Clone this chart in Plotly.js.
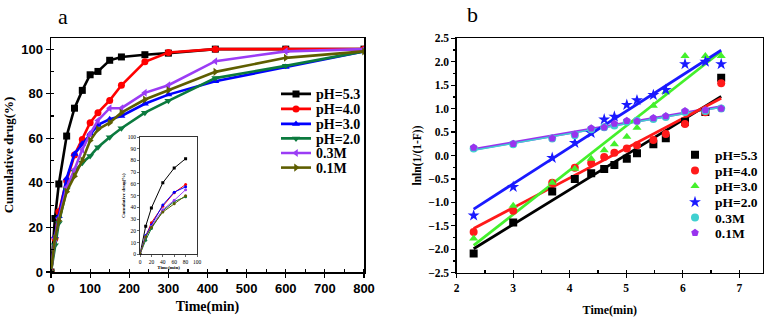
<!DOCTYPE html>
<html><head><meta charset="utf-8">
<script src="https://cdn.plot.ly/plotly-3.0.1.min.js"></script>
<style>html,body{margin:0;padding:0;background:#fff}#chart{width:772px;height:318px}</style>
</head><body><div id="chart"></div>
<script>
// ---------- Panel a: cumulative release ----------
const timeMin = [0, 10, 20, 40, 60, 80, 100, 120, 150, 180, 240, 300, 420, 600, 800];
const seriesNames = ['pH=5.3', 'pH=4.0', 'pH=3.0', 'pH=2.0', '0.3M', '0.1M'];
const relPH53 = [0, 24, 39.5, 61, 73.5, 81.5, 88.5, 90, 95, 96.5, 97.5, 98.2, 100, 100, 100];
const relPH40 = [0, 15, 27, 41, 52.5, 59.5, 67, 71.5, 77, 83.8, 94.3, 98.5, 100, 100, 100];
const relPH30 = [0, 16, 25, 42, 53, 57.5, 62, 66, 68.5, 70, 75.5, 79.6, 85.6, 92, 99];
const relPH20 = [0, 12, 22, 37, 45, 49, 52, 56, 60.5, 64.5, 71.5, 76.8, 87, 92.5, 99];
const rel03M  = [0, 15, 24, 38, 46, 55, 62, 68, 73.5, 73.5, 80.4, 83.8, 94.6, 99, 100];
const rel01M  = [0, 15, 23, 36, 43, 50, 59, 64, 67, 71.5, 77.4, 81.6, 89.8, 96.1, 99];
const insetCount = 6; // inset shows the first 80 min

// ---------- Panel b: lnln(1/(1-F)) vs ln t ----------
const lnTime = [2.30, 3.00, 3.69, 4.09, 4.38, 4.61, 4.79, 5.01, 5.19, 5.48, 5.70, 6.04, 6.40, 6.68];
const kinPH53 = [-2.09, -1.43, -0.77, -0.50, -0.38, -0.29, -0.20, -0.07, 0.05, 0.24, 0.37, 0.72, 0.93, 1.66];
const kinPH40 = [-1.63, -1.18, -0.58, -0.26, -0.16, -0.03, 0.06, 0.15, 0.22, 0.33, 0.46, 0.67, 0.92, 1.54];
const kinPH30 = [-1.77, -1.07, -0.58, -0.28, -0.07, 0.11, 0.24, 0.40, 0.59, 1.06, 1.36, 2.12, 2.12, 2.12];
const kinPH20 = [-1.28, -0.67, -0.05, 0.27, 0.48, 0.77, 0.83, 1.08, 1.18, 1.29, 1.40, 1.95, 2.00, 1.95];
const kin03M  = [0.15, 0.24, 0.36, 0.43, 0.56, 0.60, 0.64, 0.72, 0.74, 0.78, 0.82, 0.93, 0.95, 1.00];
const kin01M  = [0.17, 0.25, 0.37, 0.45, 0.58, 0.60, 0.68, 0.74, 0.73, 0.80, 0.84, 0.95, 0.97, 1.00];

// ---------- styles ----------
const colorsA = ['#000000', '#ff0000', '#0000ff', '#0b7a3e', '#9b3cf5', '#5e5e00'];
const symbolsA = ['square', 'circle', 'triangle-up', 'triangle-down', 'triangle-left', 'triangle-right'];
const colorsB = ['#000000', '#ff1a1a', '#44f02c', '#1a1aff', '#40d0d0', '#9933ee'];
const symbolsB = ['square', 'circle', 'triangle-up', 'star', 'circle', 'pentagon'];

const relSeries = [relPH53, relPH40, relPH30, relPH20, rel03M, rel01M];
const kinSeries = [kinPH53, kinPH40, kinPH30, kinPH20, kin03M, kin01M];

const SERIF = '"Liberation Serif", "Times New Roman", serif';
const SANS = '"Liberation Sans", Arial, sans-serif';

function linFit(xs, ys) {
  const n = xs.length;
  const mx = xs.reduce((a, b) => a + b, 0) / n;
  const my = ys.reduce((a, b) => a + b, 0) / n;
  let sxy = 0, sxx = 0;
  for (let i = 0; i < n; i++) { sxy += (xs[i] - mx) * (ys[i] - my); sxx += (xs[i] - mx) ** 2; }
  const k = sxy / sxx;
  return { k: k, b: my - k * mx };
}

const legendKey = n => (n === 1 ? 'legend' : 'legend' + n);

const traces = [];
// main panel a
relSeries.forEach((ys, i) => {
  traces.push({
    x: timeMin, y: ys, name: seriesNames[i], type: 'scatter', mode: 'lines+markers',
    xaxis: 'x', yaxis: 'y', legend: legendKey(i + 1),
    line: { color: colorsA[i], width: 2.6 },
    marker: { symbol: symbolsA[i], size: 7, color: colorsA[i] }
  });
});
// inset
relSeries.forEach((ys, i) => {
  traces.push({
    x: timeMin.slice(0, insetCount), y: ys.slice(0, insetCount), name: seriesNames[i],
    type: 'scatter', mode: 'lines+markers', xaxis: 'x3', yaxis: 'y3', showlegend: false,
    line: { color: colorsA[i], width: 1 },
    marker: { symbol: i === 0 ? 'square' : 'circle', size: 3, color: colorsA[i] }
  });
});
// panel b fits (cyan drawn thin on top of purple)
const fitOrder = [5, 4, 0, 1, 2, 3];
fitOrder.forEach(i => {
  const f = linFit(lnTime, kinSeries[i]);
  const x0 = Math.min(...lnTime), x1 = Math.max(...lnTime);
  traces.push({
    x: [x0, x1], y: [f.k * x0 + f.b, f.k * x1 + f.b], type: 'scatter', mode: 'lines',
    xaxis: 'x2', yaxis: 'y2', showlegend: false, hoverinfo: 'skip',
    line: { color: colorsB[i], width: i === 4 ? 1.5 : 2.8 }
  });
});
// panel b points
kinSeries.forEach((ys, i) => {
  traces.push({
    x: lnTime, y: ys, name: seriesNames[i], type: 'scatter', mode: 'markers',
    xaxis: 'x2', yaxis: 'y2', legend: legendKey(i + 7),
    marker: { symbol: symbolsB[i], size: symbolsB[i] === 'star' ? 9 : 8, color: colorsB[i] }
  });
});

const W = 772, H = 318;
const px = v => v / W, py = v => (H - v) / H;

const tickA = { family: SANS, size: 13, color: '#000', weight: 'bold' };
const tickB = { family: SERIF, size: 11.5, color: '#000', weight: 'bold' };

const layout = {
  width: W, height: H, margin: { l: 0, r: 0, t: 0, b: 0 },
  paper_bgcolor: '#fff', plot_bgcolor: '#fff', showlegend: true,
  xaxis: {
    domain: [px(51), px(364)], range: [0, 800], dtick: 100, tick0: 0,
    showline: true, linecolor: '#000', linewidth: 1.5, mirror: true,
    ticks: 'outside', ticklen: 4, tickwidth: 1.2, tickcolor: '#000',
    minor: { dtick: 50, ticks: 'inside', ticklen: 3, tickcolor: '#000' },
    showgrid: false, zeroline: false, tickfont: tickA,
    title: { text: 'Time(min)', font: { family: SERIF, size: 14, color: '#000', weight: 'bold' }, standoff: 6 },
    anchor: 'y'
  },
  yaxis: {
    domain: [py(272), py(38)], range: [0, 105], dtick: 20, tick0: 0,
    showline: true, linecolor: '#000', linewidth: 1.5, mirror: true,
    ticks: 'outside', ticklen: 4, tickwidth: 1.2, tickcolor: '#000',
    minor: { dtick: 10, ticks: 'inside', ticklen: 3, tickcolor: '#000' },
    showgrid: false, zeroline: false, tickfont: tickA,
    title: { text: 'Cumulative drug(%)', font: { family: SERIF, size: 13, color: '#000', weight: 'bold' }, standoff: 4 },
    anchor: 'x'
  },
  xaxis2: {
    domain: [px(456.7), px(763)], range: [2, 7.42], dtick: 1, tick0: 2,
    showline: true, linecolor: '#000', linewidth: 1.3, mirror: true,
    ticks: 'outside', ticklen: 4, tickwidth: 1.2, tickcolor: '#000',
    minor: { dtick: 0.5, ticks: 'inside', ticklen: 3, tickcolor: '#000' },
    showgrid: false, zeroline: false, tickfont: tickB,
    title: { text: 'Time(min)', font: { family: SERIF, size: 12, color: '#000', weight: 'bold' }, standoff: 12 },
    anchor: 'y2'
  },
  yaxis2: {
    domain: [py(272.7), py(38.3)], range: [-2.5, 2.5], dtick: 0.5, tick0: 0,
    tickformat: '.1f',
    showline: true, linecolor: '#000', linewidth: 1.3, mirror: true,
    ticks: 'outside', ticklen: 4, tickwidth: 1.2, tickcolor: '#000',
    minor: { dtick: 0.25, ticks: 'outside', ticklen: 2.5, tickcolor: '#000' },
    showgrid: false, zeroline: false, tickfont: tickB,
    title: { text: 'lnln(1/(1-F))', font: { family: SERIF, size: 11.5, color: '#000', weight: 'bold' }, standoff: 4 },
    anchor: 'x2'
  },
  xaxis3: {
    domain: [px(140), px(197)], range: [0, 100], dtick: 20, tick0: 0,
    showline: true, linecolor: '#000', linewidth: 0.8, mirror: true,
    ticks: 'outside', ticklen: 2, tickwidth: 0.6, tickcolor: '#000',
    showgrid: false, zeroline: false,
    tickfont: { family: SERIF, size: 5.5, color: '#000' },
    title: { text: 'Time(min)', font: { family: SERIF, size: 5, color: '#000', weight: 'bold' }, standoff: 1 },
    anchor: 'y3'
  },
  yaxis3: {
    domain: [py(254.3), py(137)], range: [0, 100], dtick: 10, tick0: 0,
    showline: true, linecolor: '#000', linewidth: 0.8, mirror: true,
    ticks: 'outside', ticklen: 2, tickwidth: 0.6, tickcolor: '#000',
    showgrid: false, zeroline: false,
    tickfont: { family: SERIF, size: 5.5, color: '#000' },
    title: { text: 'Cumulative drug(%)', font: { family: SERIF, size: 5, color: '#000', weight: 'bold' }, standoff: 1 },
    anchor: 'x3'
  },
  annotations: [
    { text: 'a', xref: 'paper', yref: 'paper', x: px(63), y: py(17), xanchor: 'center', yanchor: 'middle',
      showarrow: false, font: { family: SERIF, size: 22, color: '#000' } },
    { text: 'b', xref: 'paper', yref: 'paper', x: px(473), y: py(15), xanchor: 'center', yanchor: 'middle',
      showarrow: false, font: { family: SERIF, size: 22, color: '#000' } }
  ]
};

// one legend box per entry so that entries can sit as tightly as in the figure
const legendRowsA = [94.3, 109.3, 124.3, 138.8, 153.4, 168];
const legendRowsB = [155, 170.7, 186.3, 202.3, 217.7, 233];
legendRowsA.forEach((yc, i) => {
  layout[legendKey(i + 1)] = {
    x: px(276), y: py(yc), xanchor: 'left', yanchor: 'middle',
    bgcolor: 'rgba(0,0,0,0)', borderwidth: 0,
    font: { family: SERIF, size: 14, color: '#000', weight: 'bold' }
  };
});
legendRowsB.forEach((yc, i) => {
  layout[legendKey(i + 7)] = {
    x: px(675), y: py(yc), xanchor: 'left', yanchor: 'middle',
    bgcolor: 'rgba(0,0,0,0)', borderwidth: 0,
    font: { family: SERIF, size: 13.5, color: '#000', weight: 'bold' }
  };
});

Plotly.newPlot('chart', traces, layout, { staticPlot: true, displayModeBar: false });
</script></body></html>
